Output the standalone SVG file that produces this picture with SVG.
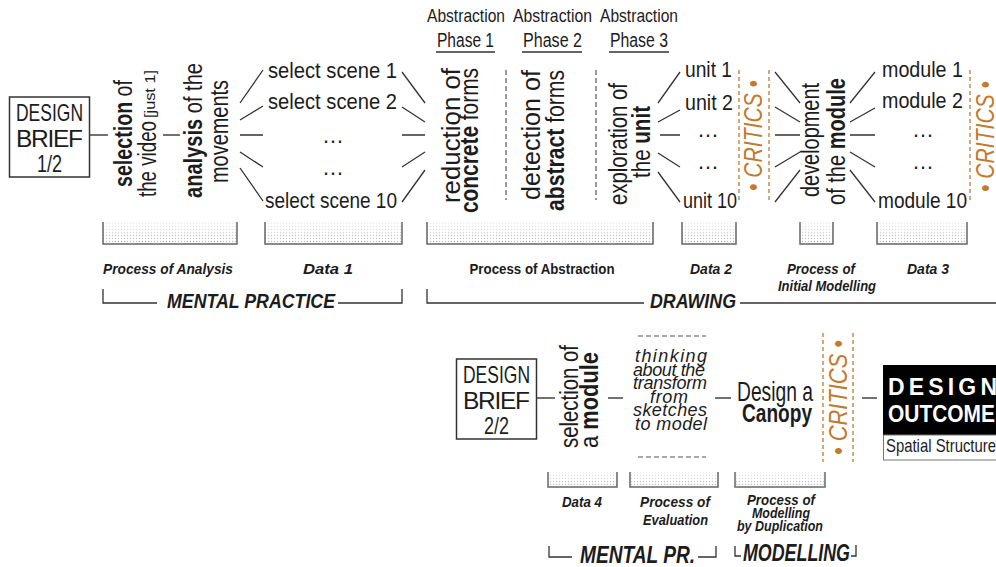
<svg xmlns="http://www.w3.org/2000/svg" width="996" height="567" viewBox="0 0 996 567">
<style>
text{font-family:"Liberation Sans",Arial,sans-serif;fill:#1c1c1c}
.b{font-weight:bold}
.lbl{font-weight:bold;font-style:italic;font-size:15.5px}
.brk{font-weight:bold;font-style:italic}
.ln{stroke:#333;stroke-width:1.3;fill:none}
.cn{stroke:#444;stroke-width:1.6;fill:none}
.crit{fill:#c27a2e;font-style:italic}
.cdash{stroke:#c27a2e;stroke-width:1.3;stroke-dasharray:4 3;fill:none}
.gdash{stroke:#555;stroke-width:1.2;stroke-dasharray:5 3;fill:none}
.bar{fill:url(#dots)}
.barfade{fill:url(#fade)}
.barln{stroke:#666;stroke-width:1.5;fill:none}
.box{fill:#fff;stroke:#333;stroke-width:1.5}
.th{font-style:italic;font-size:18px}
</style>
<defs>
<pattern id="dots" width="3" height="3" patternUnits="userSpaceOnUse">
<rect width="3" height="3" fill="#fff"/>
<circle cx="1.5" cy="1.5" r="0.7" fill="#b5b5b5"/>
</pattern>
<linearGradient id="fade" x1="0" y1="0" x2="0" y2="1">
<stop offset="0" stop-color="#fff" stop-opacity="0.75"/>
<stop offset="1" stop-color="#fff" stop-opacity="0"/>
</linearGradient>
</defs>
<rect width="996" height="567" fill="#fff"/>

<!-- Row 1 -->
<g id="brief1">
<rect class="box" x="9.5" y="97" width="80" height="80"/>
<text x="49.5" y="120.5" font-size="24.5" text-anchor="middle" textLength="67" lengthAdjust="spacingAndGlyphs">DESIGN</text>
<text x="49.5" y="146.5" font-size="24.5" text-anchor="middle" textLength="67" lengthAdjust="spacing">BRIEF</text>
<text x="49.5" y="172" font-size="24.5" text-anchor="middle" textLength="25" lengthAdjust="spacingAndGlyphs">1/2</text>
</g>

<g id="selection-video">
<text transform="translate(132,187) rotate(-90)" font-size="25" textLength="107" lengthAdjust="spacingAndGlyphs"><tspan class="b">selection</tspan> of</text>
<text transform="translate(156,197) rotate(-90)" font-size="25" textLength="76" lengthAdjust="spacingAndGlyphs">the video</text>
<text transform="translate(155,118) rotate(-90)" font-size="15" textLength="48" lengthAdjust="spacingAndGlyphs">[just 1]</text>
</g>

<g id="analysis">
<text transform="translate(202,198) rotate(-90)" font-size="25" textLength="135" lengthAdjust="spacingAndGlyphs"><tspan class="b">analysis</tspan> of the</text>
<text transform="translate(228,183) rotate(-90)" font-size="25" textLength="103" lengthAdjust="spacingAndGlyphs">movements</text>
</g>

<g id="scenes">
<text x="268" y="78" font-size="21.5" textLength="129" lengthAdjust="spacingAndGlyphs">select scene 1</text>
<text x="268" y="109" font-size="21.5" textLength="129" lengthAdjust="spacingAndGlyphs">select scene 2</text>
<text x="333" y="143" font-size="22" text-anchor="middle">…</text>
<text x="333" y="175" font-size="22" text-anchor="middle">…</text>
<text x="265" y="208" font-size="21.5" textLength="132" lengthAdjust="spacingAndGlyphs">select scene 10</text>
</g>

<g id="phase-labels">
<text x="466" y="22" font-size="19" text-anchor="middle" textLength="78" lengthAdjust="spacingAndGlyphs">Abstraction</text>
<text x="552.5" y="22" font-size="19" text-anchor="middle" textLength="79" lengthAdjust="spacingAndGlyphs">Abstraction</text>
<text x="639" y="22" font-size="19" text-anchor="middle" textLength="78" lengthAdjust="spacingAndGlyphs">Abstraction</text>
<text x="465.5" y="47" font-size="19.5" text-anchor="middle" textLength="57" lengthAdjust="spacingAndGlyphs">Phase 1</text>
<text x="552.5" y="47" font-size="19.5" text-anchor="middle" textLength="59" lengthAdjust="spacingAndGlyphs">Phase 2</text>
<text x="639" y="47" font-size="19.5" text-anchor="middle" textLength="58" lengthAdjust="spacingAndGlyphs">Phase 3</text>
<path class="ln" d="M436,52H495M522,52H582M609,52H669"/>
</g>

<g id="reduction">
<text transform="translate(460,203) rotate(-90)" font-size="26" textLength="135" lengthAdjust="spacingAndGlyphs">reduction of</text>
<text transform="translate(478,213) rotate(-90)" font-size="26" textLength="145" lengthAdjust="spacingAndGlyphs"><tspan class="b">concrete</tspan> forms</text>
</g>
<g id="detection">
<text transform="translate(540,200) rotate(-90)" font-size="26" textLength="130" lengthAdjust="spacingAndGlyphs">detection of</text>
<text transform="translate(564,211) rotate(-90)" font-size="26" textLength="141" lengthAdjust="spacingAndGlyphs"><tspan class="b">abstract</tspan> forms</text>
</g>
<g id="exploration">
<text transform="translate(627,205) rotate(-90)" font-size="25" textLength="122" lengthAdjust="spacingAndGlyphs">exploration of</text>
<text transform="translate(650,178) rotate(-90)" font-size="25" textLength="72" lengthAdjust="spacingAndGlyphs">the <tspan class="b">unit</tspan></text>
</g>

<g id="units">
<text x="685" y="77" font-size="21.5" textLength="47" lengthAdjust="spacingAndGlyphs">unit 1</text>
<text x="685" y="110" font-size="21.5" textLength="48" lengthAdjust="spacingAndGlyphs">unit 2</text>
<text x="708" y="137" font-size="22" text-anchor="middle">…</text>
<text x="708" y="169" font-size="22" text-anchor="middle">…</text>
<text x="683" y="208" font-size="21.5" textLength="54" lengthAdjust="spacingAndGlyphs">unit 10</text>
</g>

<g id="critics1">
<path class="cdash" d="M739,70V200M769,70V200"/>
<text class="crit" transform="translate(762,191) rotate(-90)" font-size="25" textLength="111" lengthAdjust="spacingAndGlyphs">• CRITICS •</text>
</g>

<g id="development">
<text transform="translate(819,197) rotate(-90)" font-size="25" textLength="114" lengthAdjust="spacingAndGlyphs">development</text>
<text transform="translate(845,205) rotate(-90)" font-size="25" textLength="127" lengthAdjust="spacingAndGlyphs">of the <tspan class="b">module</tspan></text>
</g>

<g id="modules">
<text x="882" y="77" font-size="21.5" textLength="81" lengthAdjust="spacingAndGlyphs">module 1</text>
<text x="882" y="108" font-size="21.5" textLength="81" lengthAdjust="spacingAndGlyphs">module 2</text>
<text x="923" y="137" font-size="22" text-anchor="middle">…</text>
<text x="923" y="169" font-size="22" text-anchor="middle">…</text>
<text x="878" y="208" font-size="21.5" textLength="89" lengthAdjust="spacingAndGlyphs">module 10</text>
</g>

<g id="critics2">
<path class="cdash" d="M970,70V200"/>
<text class="crit" transform="translate(994,192) rotate(-90)" font-size="25" textLength="111" lengthAdjust="spacingAndGlyphs">• CRITICS •</text>
</g>

<!-- Row 2 -->
<g id="brief2">
<rect class="box" x="456.5" y="359" width="80" height="80"/>
<text x="496.5" y="382.5" font-size="24.5" text-anchor="middle" textLength="67" lengthAdjust="spacingAndGlyphs">DESIGN</text>
<text x="496.5" y="408.5" font-size="24.5" text-anchor="middle" textLength="67" lengthAdjust="spacing">BRIEF</text>
<text x="496.5" y="434" font-size="24.5" text-anchor="middle" textLength="25" lengthAdjust="spacingAndGlyphs">2/2</text>
</g>

<g id="selection-module">
<text transform="translate(578,448) rotate(-90)" font-size="25" textLength="103" lengthAdjust="spacingAndGlyphs">selection of</text>
<text transform="translate(598,448) rotate(-90)" font-size="25" textLength="96" lengthAdjust="spacingAndGlyphs">a <tspan class="b">module</tspan></text>
</g>

<g id="thinking">
<path class="gdash" d="M638,336H706M638,457H706" stroke-dasharray="6 6"/>
<text class="th" x="635" y="362" textLength="72" lengthAdjust="spacing">thinking</text>
<text class="th" x="633" y="375.5" textLength="72" lengthAdjust="spacing">about the</text>
<text class="th" x="633" y="389" textLength="74" lengthAdjust="spacing">transform</text>
<text class="th" x="650" y="402.5" textLength="38" lengthAdjust="spacing">from</text>
<text class="th" x="633" y="416" textLength="74" lengthAdjust="spacing">sketches</text>
<text class="th" x="635" y="430" textLength="72" lengthAdjust="spacing">to  model</text>
</g>

<g id="canopy">
<text x="737" y="401" font-size="28" textLength="76" lengthAdjust="spacingAndGlyphs">Design a</text>
<text class="b" x="742" y="422" font-size="26" textLength="70" lengthAdjust="spacingAndGlyphs">Canopy</text>
</g>

<g id="critics3">
<path class="cdash" d="M823,333V462M853,333V462"/>
<text class="crit" transform="translate(847,455) rotate(-90)" font-size="25" textLength="115" lengthAdjust="spacingAndGlyphs">• CRITICS •</text>
</g>

<g id="outcome">
<rect x="883" y="365" width="120" height="70" fill="#000"/>
<rect x="883.5" y="435" width="120" height="25" fill="#fff" stroke="#777" stroke-width="1"/>
<text class="b" x="888" y="395" font-size="23" textLength="109" lengthAdjust="spacing" style="fill:#fff">DESIGN</text>
<text class="b" x="888" y="422" font-size="23.5" textLength="107" lengthAdjust="spacingAndGlyphs" style="fill:#fff">OUTCOME</text>
<text x="886" y="452" font-size="18.5" textLength="110" lengthAdjust="spacingAndGlyphs">Spatial Structure</text>
</g>

<!-- Connectors -->
<g id="connectors">
<path class="cn" d="M90,135H108M163,135H180"/>
<path class="ln" d="M240,103L263,70M240,120L263,106M240,135H263M240,152L263,167M240,168L263,201"/>
<path class="ln" d="M402,72L425,103M402,107L425,122M402,135H425M402,167L425,152M402,202L425,170"/>
<path class="gdash" d="M506,70V200M596,70V200"/>
<path class="ln" d="M658,103L680,72M658,122L680,110M660,135H680M658,153L680,167M658,172L680,202"/>
<path class="ln" d="M775,72L800,103M775,107L800,122M775,135H800M775,167L800,152M775,202L800,170"/>
<path class="ln" d="M850,103L875,72M850,122L875,108M850,135H875M850,152L875,167M850,170L875,202"/>
<path class="cn" d="M537,398H555M608,398H623M715,398H731M862,398H877"/>
</g>

<!-- Data bars row 1 -->
<g id="bars1">
<rect class="bar" x="103" y="222" width="134" height="22"/><rect class="barfade" x="103" y="222" width="134" height="22"/>
<path class="barln" d="M103,222V244H237V222"/>
<rect class="bar" x="265" y="222" width="137" height="22"/><rect class="barfade" x="265" y="222" width="137" height="22"/>
<path class="barln" d="M265,222V244H402V222"/>
<rect class="bar" x="427" y="222" width="226" height="22"/><rect class="barfade" x="427" y="222" width="226" height="22"/>
<path class="barln" d="M427,222V244H653V222"/>
<rect class="bar" x="682" y="222" width="54" height="22"/><rect class="barfade" x="682" y="222" width="54" height="22"/>
<path class="barln" d="M682,222V244H736V222"/>
<rect class="bar" x="800" y="222" width="33" height="22"/><rect class="barfade" x="800" y="222" width="33" height="22"/>
<path class="barln" d="M800,222V244H833V222"/>
<rect class="bar" x="877" y="222" width="90" height="22"/><rect class="barfade" x="877" y="222" width="90" height="22"/>
<path class="barln" d="M877,222V244H967V222"/>
</g>

<g id="labels1">
<text class="lbl" x="168" y="274" text-anchor="middle" textLength="130" lengthAdjust="spacingAndGlyphs">Process of Analysis</text>
<text class="lbl" x="328" y="274" text-anchor="middle" textLength="50" lengthAdjust="spacingAndGlyphs">Data 1</text>
<text class="b" x="542" y="274" font-size="15.5" text-anchor="middle" textLength="145" lengthAdjust="spacingAndGlyphs">Process of Abstraction</text>
<text class="lbl" x="711" y="274" text-anchor="middle" textLength="42" lengthAdjust="spacingAndGlyphs">Data 2</text>
<text class="lbl" x="821" y="274" text-anchor="middle" textLength="68" lengthAdjust="spacingAndGlyphs">Process of</text>
<text class="lbl" x="827" y="291" text-anchor="middle" textLength="98" lengthAdjust="spacingAndGlyphs">Initial Modelling</text>
<text class="lbl" x="928" y="274" text-anchor="middle" textLength="42" lengthAdjust="spacingAndGlyphs">Data 3</text>
</g>

<g id="brackets1">
<path class="ln" d="M103,289V303H157M338,303H402V289"/>
<text class="brk" x="167" y="308" font-size="21" textLength="168" lengthAdjust="spacingAndGlyphs">MENTAL PRACTICE</text>
<path class="ln" d="M427,289V303H644M740,303H996"/>
<text class="brk" x="650" y="308" font-size="21" textLength="86" lengthAdjust="spacingAndGlyphs">DRAWING</text>
</g>

<!-- Data bars row 2 -->
<g id="bars2">
<rect class="bar" x="548" y="472" width="69" height="15"/><rect class="barfade" x="548" y="472" width="69" height="15"/>
<path class="barln" d="M548,472V487H617V472"/>
<rect class="bar" x="630" y="472" width="88" height="15"/><rect class="barfade" x="630" y="472" width="88" height="15"/>
<path class="barln" d="M630,472V487H718V472"/>
<rect class="bar" x="735" y="472" width="90" height="15"/><rect class="barfade" x="735" y="472" width="90" height="15"/>
<path class="barln" d="M735,472V487H825V472"/>
</g>

<g id="labels2">
<text class="lbl" x="582" y="507" text-anchor="middle" textLength="40" lengthAdjust="spacingAndGlyphs">Data 4</text>
<text class="lbl" x="675" y="507" text-anchor="middle" textLength="70" lengthAdjust="spacingAndGlyphs">Process of</text>
<text class="lbl" x="675.5" y="525" text-anchor="middle" textLength="65" lengthAdjust="spacingAndGlyphs">Evaluation</text>
<text class="lbl" x="781" y="505" text-anchor="middle" textLength="68" lengthAdjust="spacingAndGlyphs">Process of</text>
<text class="lbl" x="781" y="518" text-anchor="middle" textLength="58" lengthAdjust="spacingAndGlyphs">Modelling</text>
<text class="lbl" x="780" y="531" text-anchor="middle" textLength="86" lengthAdjust="spacingAndGlyphs">by Duplication</text>
</g>

<g id="brackets2">
<path class="ln" d="M549,546V557H572M698,557H716V546"/>
<text class="brk" x="580" y="563" font-size="23" textLength="115" lengthAdjust="spacingAndGlyphs">MENTAL PR.</text>
<path class="ln" d="M735,546V556H741M851,556H856V545"/>
<text class="brk" x="743" y="561" font-size="23" textLength="107" lengthAdjust="spacingAndGlyphs">MODELLING</text>
</g>
</svg>
